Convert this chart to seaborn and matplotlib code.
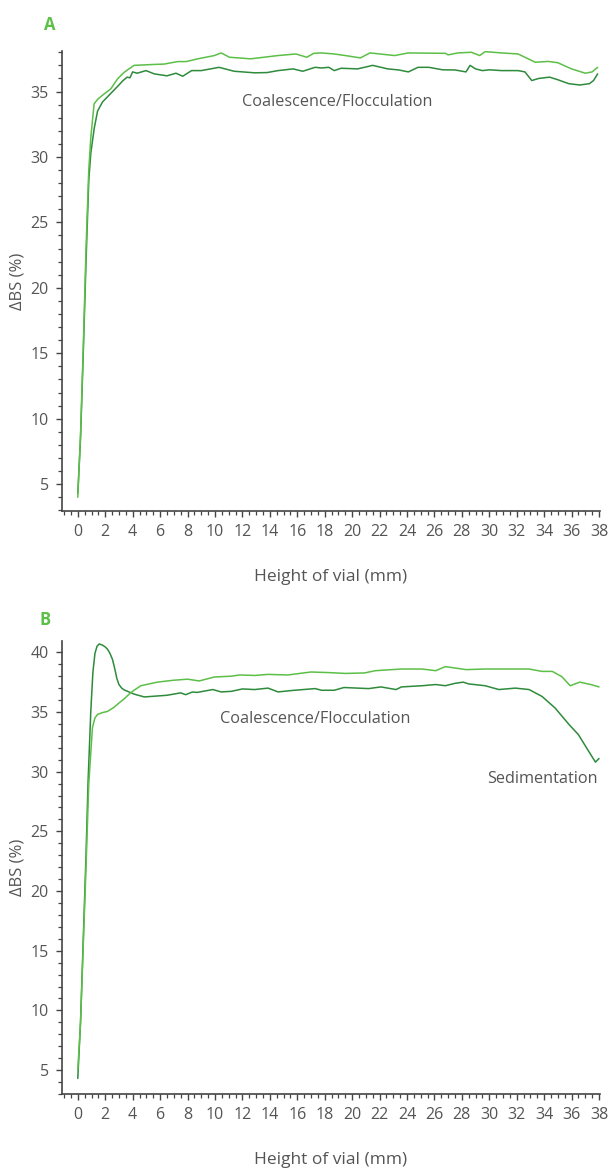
import numpy as np
import pandas as pd
import matplotlib
matplotlib.use("Agg")
import matplotlib.pyplot as plt
import seaborn as sns
from matplotlib.ticker import MultipleLocator

# ---------------- data ----------------
a_dark_x = [0, 0.2, 0.4, 0.6, 0.8, 0.95, 1.2, 1.44, 1.8, 2.4, 3.0, 3.3, 3.6, 3.8, 4.0, 4.33, 4.97, 5.58,
            6.5, 7.16, 7.65, 8.3, 9.0, 10.3, 11.4, 12.9, 13.8, 14.6, 15.7, 16.4, 17.3, 17.77, 18.3, 18.7,
            19.2, 20.4, 21.5, 22.6, 23.4, 24.1, 24.8, 25.6, 26.6, 27.5, 28.3, 28.6, 29.0, 29.5, 30.0,
            30.9, 32.1, 32.6, 33.1, 33.6, 34.4, 35.0, 35.8, 36.6, 37.3, 37.6, 37.9]
a_dark_y = [4.3, 8.5, 15, 22, 28.2, 30.3, 32.2, 33.5, 34.2, 34.85, 35.5, 35.84, 36.1, 36.05, 36.5, 36.4,
            36.6, 36.35, 36.2, 36.4, 36.17, 36.6, 36.6, 36.85, 36.55, 36.43, 36.45, 36.6, 36.73, 36.55,
            36.85, 36.8, 36.85, 36.6, 36.78, 36.73, 37.0, 36.73, 36.65, 36.5, 36.85, 36.85, 36.66, 36.65,
            36.5, 37.0, 36.73, 36.6, 36.66, 36.6, 36.6, 36.5, 35.84, 36.0, 36.1, 35.9, 35.6, 35.5, 35.6,
            35.84, 36.35]

a_light_x = [0, 0.2, 0.4, 0.6, 0.8, 0.95, 1.19, 1.44, 1.9, 2.4, 2.9, 3.38, 4.1, 5.34, 6.3, 7.3, 7.9,
             8.75, 9.96, 10.45, 11.06, 12.6, 14.6, 15.9, 16.7, 17.2, 17.76, 18.7, 19.5, 20.6, 21.3, 23.1,
             24.1, 26.8, 27.0, 27.7, 28.7, 29.3, 29.7, 30.9, 32.1, 33.35, 34.3, 35.0, 36.0, 37.0, 37.5, 37.9]
a_light_y = [4.0, 8.8, 15.5, 23, 29, 31.5, 34.06, 34.4, 34.8, 35.2, 35.97, 36.47, 37.0, 37.06, 37.1,
             37.29, 37.29, 37.5, 37.75, 37.95, 37.62, 37.5, 37.75, 37.87, 37.62, 37.92, 37.95, 37.87,
             37.75, 37.57, 37.95, 37.75, 37.95, 37.92, 37.8, 37.95, 38.0, 37.75, 38.05, 37.95, 37.87,
             37.24, 37.3, 37.2, 36.73, 36.4, 36.5, 36.85]

b_dark_x = [0, 0.2, 0.4, 0.6, 0.75, 0.95, 1.1, 1.25, 1.4, 1.56, 1.8, 2.0, 2.17, 2.35, 2.53, 2.7, 2.85,
            3.0, 3.2, 3.38, 4.1, 4.85, 6.5, 7.5,
            7.86, 8.35, 8.7, 9.85, 10.45, 11.2, 12.0, 12.9, 13.87, 14.6, 15.6, 17.3, 17.77, 18.7, 19.4,
            21.2, 22.1, 23.2, 23.6, 25.1, 26.1, 26.8, 27.5, 28.1, 28.5, 29.7, 30.7, 31.9, 32.9, 33.85,
            34.8, 35.8, 36.5, 37.1, 37.74, 38.0]
b_dark_y = [4.3, 9, 16, 23, 29.2, 35.1, 38.3, 39.9, 40.5, 40.7, 40.6, 40.45, 40.25, 39.9, 39.4, 38.6, 37.8,
            37.3, 37.0, 36.85, 36.5, 36.26, 36.4, 36.6,
            36.45, 36.67, 36.64, 36.88, 36.68, 36.73, 36.93, 36.88, 37.0, 36.68, 36.8, 36.96,
            36.82, 36.82, 37.05, 36.96, 37.1, 36.88, 37.1, 37.2, 37.3, 37.2, 37.4, 37.5, 37.35, 37.2,
            36.88, 37.0, 36.88, 36.3, 35.33, 33.97, 33.1, 31.98, 30.8, 31.1]

b_light_x = [0, 0.2, 0.4, 0.6, 0.8, 1.07, 1.25, 1.44, 1.8, 2.17, 2.65, 3.0, 3.38, 3.75, 4.1, 4.6, 5.8, 6.9,
             8.0, 8.85, 9.96,
             11.2, 11.8, 12.9, 13.87, 15.3, 17.0, 18.3, 19.5, 20.9, 21.7, 23.6, 25.1, 26.1, 26.8, 28.3,
             29.7, 30.9, 32.9, 33.85, 34.6, 35.3, 35.9, 36.6, 37.4, 38.0]
b_light_y = [5.0, 9, 15.5, 22, 29.0, 33.7, 34.5, 34.8, 34.95, 35.05, 35.4, 35.75, 36.1, 36.5, 36.82, 37.2,
             37.5, 37.65, 37.75,
             37.6, 37.93, 38.0, 38.1, 38.06, 38.15, 38.1, 38.35, 38.3, 38.23, 38.27, 38.46, 38.6, 38.6,
             38.46, 38.8, 38.55, 38.6, 38.6, 38.6, 38.4, 38.4, 37.95, 37.2, 37.5, 37.3, 37.1]

x_ticks = list(range(0, 39, 2))
a_y_ticks = [5, 10, 15, 20, 25, 30, 35]
b_y_ticks = [5, 10, 15, 20, 25, 30, 35, 40]

x_label = "Height of vial (mm)"
y_label = "ΔBS (%)"

# ---------------- style ----------------
sns.set_style("ticks")
plt.rcParams['font.family'] = ['Open Sans', 'DejaVu Sans']
TXT = "#555555"
DARK = "#2e8b3c"
LIGHT = "#5cbf48"

fig = plt.figure(figsize=(6.11, 11.69), dpi=100)
axA = fig.add_axes([0.1015, 0.5629, 0.880, 0.3935])
axB = fig.add_axes([0.1015, 0.0642, 0.880, 0.3875])


def draw(ax, dx, dy, lx, ly, ylim, yticks):
    df = pd.concat([
        pd.DataFrame({"x": dx, "y": dy, "s": "dark"}),
        pd.DataFrame({"x": lx, "y": ly, "s": "light"}),
    ])
    sns.lineplot(data=df, x="x", y="y", hue="s", palette={"dark": DARK, "light": LIGHT},
                 sort=False, estimator=None, linewidth=1.1, legend=False, ax=ax)
    ax.set_xlim(-1.15, 38.05)
    ax.set_ylim(*ylim)
    ax.set_xticks(x_ticks)
    ax.set_yticks(yticks)
    ax.xaxis.set_minor_locator(MultipleLocator(0.5))
    ax.yaxis.set_minor_locator(MultipleLocator(1))
    ax.tick_params(which="major", length=4.5, width=1.0, color="#444444", labelsize=11.5,
                   labelcolor=TXT, pad=5)
    ax.tick_params(which="minor", length=2.8, width=0.9, color="#444444")
    for s in ["top", "right"]:
        ax.spines[s].set_visible(False)
    for s in ["left", "bottom"]:
        ax.spines[s].set_color("#444444")
        ax.spines[s].set_linewidth(1.2)
    ax.set_xlabel(x_label, fontsize=12.5, color=TXT, labelpad=21)
    ax.set_ylabel(y_label, fontsize=12, color=TXT, labelpad=4)


draw(axA, a_dark_x, a_dark_y, a_light_x, a_light_y, (2.95, 38.1), a_y_ticks)
draw(axB, b_dark_x, b_dark_y, b_light_x, b_light_y, (3.0, 40.95), b_y_ticks)

axA.text(18.9, 34.2, "Coalescence/Flocculation", fontsize=11.7, color=TXT, ha="center", va="center")
axB.text(17.3, 34.4, "Coalescence/Flocculation", fontsize=11.7, color=TXT, ha="center", va="center")
axB.text(33.9, 29.4, "Sedimentation", fontsize=11.7, color=TXT, ha="center", va="center")

fig.text(0.082, 0.979, "A", fontsize=12, fontweight="bold", color=LIGHT, ha="center", va="center")
fig.text(0.074, 0.470, "B", fontsize=12, fontweight="bold", color=LIGHT, ha="center", va="center")

fig.savefig("out.png", dpi=100)
